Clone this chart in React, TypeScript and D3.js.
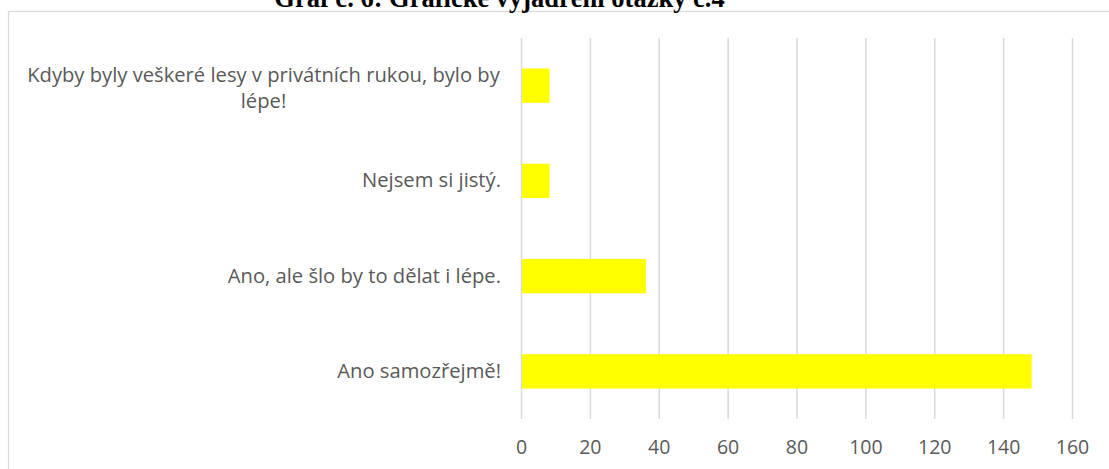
import React from "react";
import * as d3 from "d3";

// survey answers, top to bottom as drawn
const categories = [
  "Kdyby byly veškeré lesy v privátních rukou, bylo by lépe!",
  "Nejsem si jistý.",
  "Ano, ale šlo by to dělat i lépe.",
  "Ano samozřejmě!",
];
const counts = [8, 8, 36, 148];
const xTicks = [0, 20, 40, 60, 80, 100, 120, 140, 160];
const title = "Graf č. 6: Grafické vyjádření otázky č.4";

const W = 1109;
const H = 469;
const FONT = "'Open Sans', 'DejaVu Sans', sans-serif";
const TEXT = "#595959";
const GRID = "#d9d9d9";

// greedy word wrap by character count
function wrap(label: string, maxChars: number): string[] {
  const words = label.split(" ");
  const lines: string[] = [];
  let cur = "";
  words.forEach((w) => {
    const next = cur ? cur + " " + w : w;
    if (next.length > maxChars && cur) {
      lines.push(cur);
      cur = w;
    } else cur = next;
  });
  if (cur) lines.push(cur);
  return lines;
}

export default function App() {
  const x = d3.scaleLinear().domain([0, 160]).range([521.5, 1072.5]);
  const y = d3
    .scaleBand<string>()
    .domain(categories)
    .range([38, 419])
    .paddingInner(0.64)
    .paddingOuter(0.32);

  const labelRight = 501;
  const labelCenter = 263.5;

  return (
    <svg
      width={W}
      height={H}
      style={{ position: "absolute", left: 0, top: 0, background: "#fff" }}
    >
      {/* chart frame, runs off the right and bottom edges */}
      <rect x={8.5} y={11.5} width={1200} height={600} fill="#fff" stroke={GRID} strokeWidth={1.2} />

      <text
        x={499.5}
        y={7}
        textAnchor="middle"
        fontFamily="'Liberation Serif', 'Times New Roman', serif"
        fontWeight="bold"
        fontSize={26.5}
        fill="#000"
      >
        {title}
      </text>

      {/* vertical gridlines */}
      {xTicks.map((t) => (
        <line key={t} x1={x(t)} x2={x(t)} y1={38} y2={419} stroke={GRID} strokeWidth={1.5} />
      ))}

      {/* bars */}
      {categories.map((c, i) => (
        <rect
          key={c}
          x={x(0) + 0.5}
          y={y(c)}
          width={x(counts[i]) - x(0)}
          height={y.bandwidth()}
          fill="#ffff00"
        />
      ))}

      {/* category labels */}
      {categories.map((c) => {
        const lines = wrap(c, 51);
        const cy = (y(c) as number) + y.bandwidth() / 2;
        const multi = lines.length > 1;
        return (
          <text
            key={c}
            fontFamily={FONT}
            fontSize={20.2}
            fill={TEXT}
            textAnchor={multi ? "middle" : "end"}
          >
            {lines.map((l, j) => (
              <tspan
                key={j}
                x={multi ? labelCenter : labelRight}
                y={cy + 6.5 + (j - (lines.length - 1) / 2) * 26 + (multi ? 2.5 : 0)}
              >
                {l}
              </tspan>
            ))}
          </text>
        );
      })}

      {/* value axis labels */}
      {xTicks.map((t) => (
        <text
          key={t}
          x={x(t)}
          y={454}
          textAnchor="middle"
          fontFamily={FONT}
          fontSize={19.5}
          fill={TEXT}
        >
          {t}
        </text>
      ))}
    </svg>
  );
}
